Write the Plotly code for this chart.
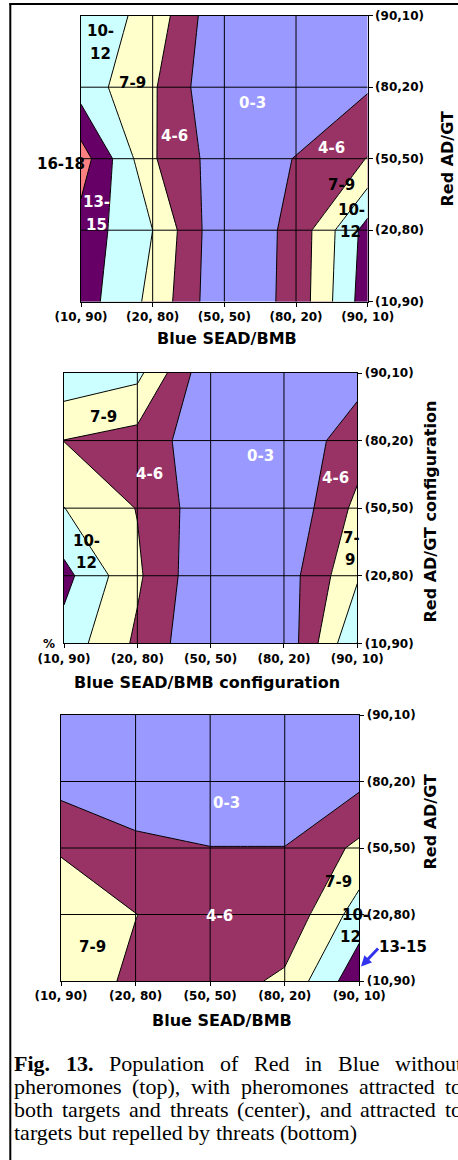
import plotly.graph_objects as go

W, H = 458, 1160

# Category labels
blue_labels = ["(10, 90)", "(20, 80)", "(50, 50)", "(80, 20)", "(90, 10)"]
red_labels = ["(10,90)", "(20,80)", "(50,50)", "(80,20)", "(90,10)"]
band_labels = ["0-3", "4-6", "7-9", "10-12", "13-15", "16-18"]

# Red population surviving; rows = Red AD/GT config (10,90) .. (90,10),
# columns = Blue SEAD/BMB config (10,90) .. (90,10)
pop_no_pheromone = [
    [13.4, 8.2, 0.3, 4.06, 13.76],
    [13.8, 9.0, 0.3, 3.95, 13.2],
    [16.5, 6.3, 1.3, 3.1, 6.1],
    [10.6, 6.4, 0.0, 1.0, 2.7],
    [11.1, 7.9, 0.2, 1.0, 1.0],
]
pop_attract_both = [
    [10.75, 5.45, 0.0, 0.76, 12.05],
    [12.95, 6.49, 0.23, 1.4, 8.6],
    [9.05, 5.89, 0.91, 0.4, 6.77],
    [5.95, 4.84, 0.97, 0.93, 4.5],
    [11.2, 9.8, 0.5, 1.0, 1.91],
]
pop_attract_repel = [
    [7.5, 5.5, 4.46, 6.6, 14.1],
    [8.5, 6.05, 4.5, 3.73, 10.4],
    [5.6, 3.7, 3.05, 3.05, 6.67],
    [1.96, 1.0, 1.0, 1.0, 2.3],
    [0.5, 0.5, 0.5, 0.5, 0.5],
]

caption_lines = [
    "**Fig. 13.** Population of Red in Blue without",
    "pheromones (top), with pheromones attracted to",
    "both targets and threats (center), and attracted to",
    "targets but repelled by threats (bottom)",
]

band_colors = ["#9999FF", "#993366", "#FFFFCC", "#CCFFFF", "#660066", "#FF8080"]

# stepped colour scale: one flat colour per 3-unit band
steps = [0, 0.1, 0.3, 0.5, 0.7, 0.9, 1.0]
colorscale = []
for i, c in enumerate(band_colors):
    colorscale.append([steps[i], c])
    colorscale.append([steps[i + 1], c])


def px_x(p):
    return p / W


def px_y(p):
    return 1 - p / H


# plot-area boxes in pixels: (left, right, top, bottom)
boxes = [
    (81, 367.7, 15.7, 301.7),
    (64, 357.3, 373, 643.3),
    (61, 359.3, 715, 981),
]
datasets = [pop_no_pheromone, pop_attract_both, pop_attract_repel]

fig = go.Figure()
idx = list(range(5))
tick_font = dict(family="DejaVu Sans", size=12, color="black", weight="bold")

for k, (z, box) in enumerate(zip(datasets, boxes)):
    sfx = "" if k == 0 else str(k + 1)
    fig.add_trace(go.Contour(
        x=idx, y=idx, z=z,
        xaxis="x" + sfx, yaxis="y" + sfx,
        autocontour=False,
        contours=dict(start=3, end=15, size=3, coloring="fill", showlines=True),
        line=dict(color="black", width=1, smoothing=0),
        colorscale=colorscale,
        showscale=False,
        hoverinfo="skip",
    ))
    l, r, t, b = box
    common = dict(
        range=[0, 4], tickmode="array", tickvals=idx,
        showgrid=False, zeroline=False, showline=True, mirror=True,
        linecolor="black", linewidth=1, ticks="outside", ticklen=4,
        tickcolor="black", tickfont=tick_font, automargin=False,
        fixedrange=True,
    )
    fig.layout["xaxis" + sfx] = dict(
        common, domain=[px_x(l), px_x(r)], anchor="y" + sfx,
        ticktext=blue_labels,
    )
    fig.layout["yaxis" + sfx] = dict(
        common, domain=[px_y(b), px_y(t)], anchor="x" + sfx,
        side="right", ticktext=red_labels,
    )
    # category grid drawn over the filled bands
    for v in (1, 2, 3):
        fig.add_shape(type="line", xref="x" + sfx, yref="y" + sfx,
                      x0=v, x1=v, y0=0, y1=4, layer="above",
                      line=dict(color="black", width=1))
        fig.add_shape(type="line", xref="x" + sfx, yref="y" + sfx,
                      x0=0, x1=4, y0=v, y1=v, layer="above",
                      line=dict(color="black", width=1))

# outer frame (left and top edges)
fig.add_shape(type="line", xref="paper", yref="paper",
              x0=px_x(10.3), x1=px_x(10.3), y0=0, y1=px_y(3.5),
              line=dict(color="black", width=2))
fig.add_shape(type="line", xref="paper", yref="paper",
              x0=px_x(9.3), x1=1.0, y0=px_y(4), y1=px_y(4),
              line=dict(color="black", width=2))

ann = []


def label(text, x, y, color="black", size=15, xanchor="center", **kw):
    ann.append(dict(text=text, x=px_x(x), y=px_y(y), xref="paper", yref="paper",
                    showarrow=False, xanchor=xanchor, yanchor="middle",
                    font=dict(family="DejaVu Sans", size=size, color=color,
                              weight="bold"), **kw))


WHITE = "white"
# band labels, top chart
label("10-", 100.5, 31.5)
label("12", 100, 53.5)
label(band_labels[2], 132.5, 83.3)
label(band_labels[1], 174, 136, WHITE)
label(band_labels[0], 252.3, 103.5, WHITE)
label(band_labels[1], 331, 148, WHITE)
label(band_labels[2], 341.7, 185)
label("10-", 351.7, 210)
label("12", 350, 231.7)
label("13-", 96.3, 202.5, WHITE)
label("15", 96, 225, WHITE)
label(band_labels[5], 87, 164, xanchor="right")

# band labels, centre chart
label(band_labels[2], 103.3, 417.3)
label(band_labels[1], 149, 474, WHITE)
label(band_labels[0], 260.3, 455.5, WHITE)
label(band_labels[1], 335.5, 478.3, WHITE)
label("10-", 86, 540.8)
label("12", 86.3, 563.3)
label("7-", 351, 538.3)
label("9", 350, 560)
label("%", 49, 644, size=12)

# band labels, bottom chart
label(band_labels[0], 226.7, 803.3, WHITE)
label(band_labels[1], 219.3, 916, WHITE)
label(band_labels[2], 92.7, 947.3)
label(band_labels[2], 338.3, 882.3)
label("10-", 355, 914.5)
label("12", 350.3, 936.7)
label(band_labels[4], 402.7, 947.3)
ann.append(dict(text="", x=px_x(361), y=px_y(966.5), xref="paper", yref="paper",
                showarrow=True, ax=18.5, ay=-19.5, arrowhead=2, arrowsize=0.7,
                arrowwidth=3, arrowcolor="#3333EE", standoff=0,
                startstandoff=0))

# axis titles
label("Blue SEAD/BMB", 227, 338, size=16)
label("Blue SEAD/BMB configuration", 207.3, 682, size=16)
label("Blue SEAD/BMB", 221.7, 1020, size=16)
label("Red AD/GT", 447.5, 159, size=16, textangle=-90)
label("Red AD/GT configuration", 430.8, 511.7, size=16, textangle=-90)
label("Red AD/GT", 430.8, 821.7, size=16, textangle=-90)

# ---- caption: Times-metric word widths, full justification ----
CAP_SIZE = 22
CAP_LEFT, CAP_RIGHT = 14, 462
CAP_TOP, CAP_STEP = 1063, 23
times_w = {
    "a": 444, "b": 500, "c": 444, "d": 500, "e": 444, "f": 333, "g": 500,
    "h": 500, "i": 278, "l": 278, "m": 778, "n": 500, "o": 500, "p": 500,
    "r": 333, "s": 389, "t": 278, "u": 500, "w": 722, "y": 500,
    "B": 667, "F": 556, "P": 556, "R": 667,
    "(": 333, ")": 333, ",": 250, ".": 250, "1": 500, "3": 500,
}
times_bold_w = dict(times_w, F=611)


def word_width(word, bold):
    table = times_bold_w if bold else times_w
    return sum(table.get(ch, 500) for ch in word) / 1000 * CAP_SIZE


for li, line in enumerate(caption_lines):
    tokens = []
    for chunk_i, chunk in enumerate(line.split("**")):
        bold = chunk_i % 2 == 1
        tokens += [(w, bold) for w in chunk.split()]
    widths = [word_width(w, b) for w, b in tokens]
    last = li == len(caption_lines) - 1
    if last:
        gap = 0.25 * CAP_SIZE
    else:
        gap = (CAP_RIGHT - CAP_LEFT - sum(widths)) / (len(tokens) - 1)
    xpos = CAP_LEFT
    for (w, bold), wd in zip(tokens, widths):
        ann.append(dict(text=f"<b>{w}</b>" if bold else w,
                        x=px_x(xpos - 2), y=px_y(CAP_TOP + li * CAP_STEP),
                        xref="paper", yref="paper", showarrow=False,
                        xanchor="left", yanchor="middle",
                        font=dict(family="Liberation Serif", size=CAP_SIZE,
                                  color="black")))
        xpos += wd + gap

fig.update_layout(
    width=W, height=H,
    margin=dict(l=0, r=0, t=0, b=0),
    paper_bgcolor="white", plot_bgcolor="white",
    showlegend=False,
    annotations=ann,
)

fig.write_html("out.html")
